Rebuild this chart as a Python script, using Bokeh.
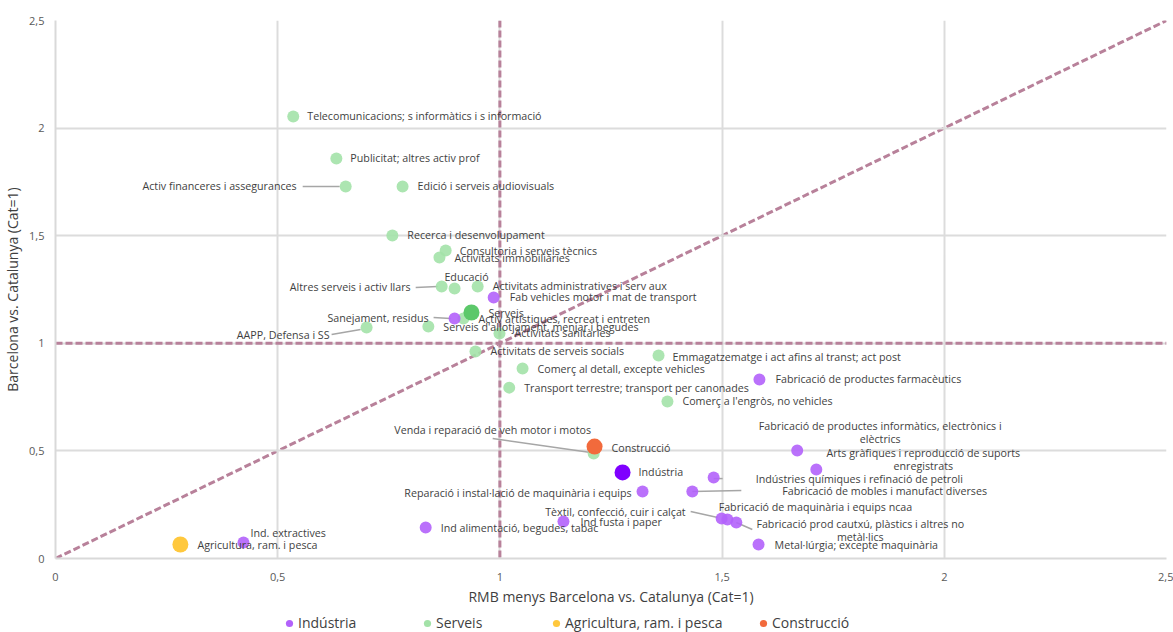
from bokeh.plotting import figure
from bokeh.layouts import column
from bokeh.models import (ColumnDataSource, Span, Legend, LegendItem, FixedTicker,
                          CustomJSTickFormatter, Range1d)
from bokeh.core.properties import value
from bokeh.embed import file_html
from bokeh.resources import INLINE

# ---------------- data ----------------
ind_names = [
    "Fab vehicles motor i mat de transport",
    "Sanejament, residus",
    "Fabricació de productes farmacèutics",
    "Fabricació de productes informàtics, electrònics i\nelèctrics",
    "Arts gràfiques i reproducció de suports\nenregistrats",
    "Indústries químiques i refinació de petroli",
    "Fabricació de mobles i manufact diverses",
    "Reparació i instal·lació de maquinària i equips",
    "Tèxtil, confecció, cuir i calçat",
    "Fabricació de maquinària i equips ncaa",
    "Fabricació prod cautxú, plàstics i altres no\nmetàl·lics",
    "Metal·lúrgia; excepte maquinària",
    "Ind fusta i paper",
    "Ind alimentació, begudes, tabac",
    "Ind. extractives",
]
ind_x = [0.986, 0.898, 1.584, 1.669, 1.712, 1.481, 1.433, 1.321, 1.499, 1.512, 1.532, 1.582, 1.143, 0.833, 0.423]
ind_y = [1.213, 1.115, 0.832, 0.502, 0.414, 0.376, 0.311, 0.311, 0.186, 0.181, 0.167, 0.065, 0.172, 0.144, 0.074]

srv_names = [
    "Telecomunicacions; s informàtics i s informació",
    "Publicitat; altres activ prof",
    "Activ financeres i assegurances",
    "Edició i serveis audiovisuals",
    "Recerca i desenvolupament",
    "Consultoria i serveis tècnics",
    "Activitats immobiliàries",
    "Altres serveis i activ llars",
    "Educació",
    "Activitats administratives i serv aux",
    "Activ artístiques, recreat i entreten",
    "Serveis d'allotjament, menjar i begudes",
    "AAPP, Defensa i SS",
    "Activitats sanitàries",
    "Activitats de serveis socials",
    "Emmagatzematge i act afins al transt; act post",
    "Comerç al detall, excepte vehicles",
    "Transport terrestre; transport per canonades",
    "Comerç a l'engròs, no vehicles",
    "Venda i reparació de veh motor i motos",
]
srv_x = [0.535, 0.632, 0.653, 0.781, 0.758, 0.878, 0.864, 0.869, 0.898, 0.950, 0.918, 0.839, 0.700, 0.999, 0.945,
         1.357, 1.051, 1.021, 1.377, 1.211]
srv_y = [2.054, 1.859, 1.729, 1.729, 1.501, 1.431, 1.399, 1.264, 1.255, 1.264, 1.115, 1.078, 1.073, 1.046, 0.962,
         0.943, 0.883, 0.794, 0.730, 0.488]

agg_names = ["Indústria", "Serveis", "Agricultura, ram. i pesca", "Construcció"]
agg_x = [1.276, 0.936, 0.281, 1.213]
agg_y = [0.400, 1.143, 0.065, 0.520]

ticks = [0, 0.5, 1, 1.5, 2, 2.5]
ref_value = 1
x_title = "RMB menys Barcelona vs. Catalunya (Cat=1)"
y_title = "Barcelona vs. Catalunya (Cat=1)"

# ---------------- layout / style ----------------
W, H, LEG_H = 1173, 608, 24
FRAME_W, FRAME_H = 1111, 538
FONT = "Open Sans"
PURPLE = "#b262fb"
GREEN = "#a3e2a8"
AGG_COLORS = ["#7f00ff", "#5cc86a", "#ffc83d", "#f26a3c"]
REF_COLOR = "#b8819a"
TEXT_COLOR = "#3f3f3f"
LEGEND_X = [225, 363, 492, 699]   # px from the (aligned) frame's left edge

# label offsets (px): dx, dy(down), align
ind_lab = [(16, 0, "left"), (-26, -1, "right"), (16, 0, "left"), (83, -18, "center"),
           (107, -10, "center"), (42, 1, "left"), (90, -1, "left"), (-11, 1, "right"),
           (-36, -6, "right"), (88, -13, "center"), (124, 8, "center"), (16, 0, "left"),
           (17, 1, "left"), (15, 0, "left"), (7, -10, "left")]
srv_lab = [(14, 0, "left"), (14, 0, "left"), (-49, 0, "right"), (15, 0, "left"), (15, 0, "left"),
           (14, 0, "left"), (15, 1, "left"), (-31, 1, "right"), (12, -11, "center"),
           (15, 0, "left"), (15, 0, "left"), (15, 0, "left"), (-37, 7, "right"), (15, 0, "left"),
           (15, 0, "left"), (14, 1, "left"), (15, 1, "left"), (15, 0, "left"), (15, 0, "left"),
           (-101, -23, "center")]
agg_lab = [(16, 0, "left"), (17, 0, "left"), (17, 0, "left"), (17, 1, "left")]

# leader lines: (group, index, dx0, dy0, dx1, dy1) in px relative to point
leaders = [("s", 2, -43, 0, -6, 0), ("s", 7, -26, 1, -4, 0), ("i", 1, -21, -1, -4, 0),
           ("s", 12, -35, 7, -6, 2), ("i", 5, 0, 1, 9, 1), ("i", 6, 0, 0, 49, -1),
           ("i", 8, -31, -7, -4, -1), ("i", 10, 0, 0, 16, 7), ("s", 19, -101, -15, -3, -1)]

xmin, xmax = ticks[0], ticks[-1]
ymin, ymax = ticks[0], ticks[-1]
sx = (xmax - xmin) / FRAME_W
sy = (ymax - ymin) / FRAME_H

p = figure(width=W, height=H, x_range=Range1d(xmin, xmax), y_range=Range1d(ymin, ymax),
           output_backend="svg", toolbar_location=None,
           min_border_left=55, min_border_right=7, min_border_top=20, min_border_bottom=50)
p.background_fill_color = "white"
p.border_fill_color = "white"
p.outline_line_color = None

for ax in (p.xaxis[0], p.yaxis[0]):
    ax.ticker = FixedTicker(ticks=ticks)
    ax.formatter = CustomJSTickFormatter(code="return tick.toString().replace('.', ',');")
    ax.major_tick_line_color = None
    ax.minor_tick_line_color = None
    ax.axis_line_color = "#d9d9d9"
    ax.axis_line_width = 2
    ax.major_label_text_font = FONT
    ax.major_label_text_font_size = "11px"
    ax.major_label_text_color = "#595959"
    ax.axis_label_text_font = FONT
    ax.axis_label_text_font_size = "14px"
    ax.axis_label_text_font_style = "normal"
    ax.axis_label_text_color = TEXT_COLOR
p.xaxis.axis_label = x_title
p.yaxis.axis_label = y_title
p.xaxis.major_label_standoff = 8
p.xaxis.axis_label_standoff = 3
p.yaxis.major_label_standoff = 5
p.yaxis.axis_label_standoff = 4

for g in (p.xgrid[0], p.ygrid[0]):
    g.ticker = FixedTicker(ticks=ticks)
    g.grid_line_color = "#dcdcdc"
    g.grid_line_width = 2

# reference lines
p.add_layout(Span(location=ref_value, dimension="height", line_color=REF_COLOR, line_width=3,
                  line_dash="7 3", level="underlay"))
p.add_layout(Span(location=ref_value, dimension="width", line_color=REF_COLOR, line_width=3,
                  line_dash="7 3", level="underlay"))
p.line([xmin, xmax], [ymin, ymax], line_color=REF_COLOR, line_width=3, line_dash="7 3", level="underlay")

# leader lines
lx0, ly0, lx1, ly1 = [], [], [], []
for grp, i, dx0, dy0, dx1, dy1 in leaders:
    px, py = (ind_x[i], ind_y[i]) if grp == "i" else (srv_x[i], srv_y[i])
    lx0.append(px + dx0 * sx); ly0.append(py - dy0 * sy)
    lx1.append(px + dx1 * sx); ly1.append(py - dy1 * sy)
p.segment(lx0, ly0, lx1, ly1, line_color="#a6a6a6", line_width=1.5)

# points
r_srv = p.scatter(srv_x, srv_y, size=12, fill_color=GREEN, line_color=None, fill_alpha=0.9)
r_ind = p.scatter(ind_x, ind_y, size=12, fill_color=PURPLE, line_color=None, fill_alpha=0.9)
for k in range(len(agg_names)):
    p.scatter([agg_x[k]], [agg_y[k]], size=16, fill_color=AGG_COLORS[k], line_color=None)

# labels
lab = dict(x=[], y=[], text=[], dx=[], dy=[], align=[])
for names, xs, ys, offs in ((srv_names, srv_x, srv_y, srv_lab), (ind_names, ind_x, ind_y, ind_lab),
                            (agg_names, agg_x, agg_y, agg_lab)):
    for n, xv, yv, (dx, dy, al) in zip(names, xs, ys, offs):
        lab["x"].append(xv); lab["y"].append(yv); lab["text"].append(n)
        lab["dx"].append(dx); lab["dy"].append(dy); lab["align"].append(al)
p.text(x="x", y="y", text="text", x_offset="dx", y_offset="dy", text_align="align",
       text_baseline="middle", text_font=value(FONT), text_font_size="10.7px", text_color=TEXT_COLOR,
       text_line_height=0.95, source=ColumnDataSource(lab))

# legend strip (separate small figure under the chart; its dummy marks lie outside its ranges)
lf = figure(width=W, height=LEG_H, x_range=Range1d(0, 1), y_range=Range1d(0, 1),
            output_backend="svg", toolbar_location=None, x_axis_type=None, y_axis_type=None,
            min_border_left=0, min_border_right=0, min_border_top=0, min_border_bottom=0)
lf.outline_line_color = None
lf.grid.visible = False
leg_colors = [PURPLE, GREEN, AGG_COLORS[2], AGG_COLORS[3]]
for k in range(len(agg_names)):
    r = lf.scatter(x=[-5], y=[-5], size=10, fill_color=leg_colors[k], line_color=None)
    leg = Legend(items=[LegendItem(label=agg_names[k], renderers=[r])], location=(LEGEND_X[k], 0),
                 glyph_width=18, glyph_height=18, label_standoff=0, padding=0, margin=0,
                 border_line_color=None, background_fill_alpha=0,
                 label_text_font=FONT, label_text_font_size="14px", label_text_color=TEXT_COLOR)
    lf.add_layout(leg, "center")

layout = column(p, lf, spacing=0)
open("out.html", "w").write(file_html(layout, INLINE))
